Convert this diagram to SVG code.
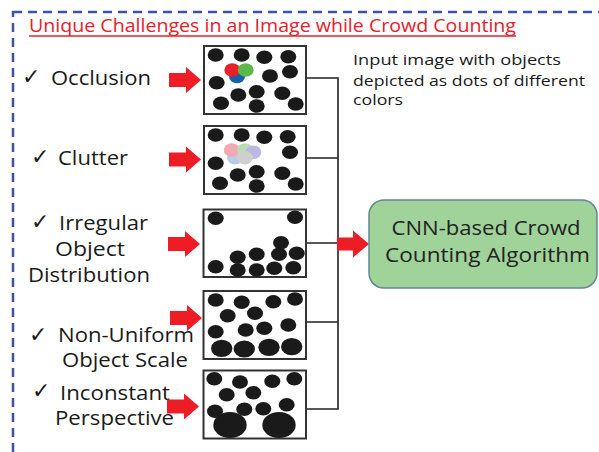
<svg xmlns="http://www.w3.org/2000/svg" width="599" height="452" viewBox="0 0 599 452">
  <style>
    .lbl { font-family: "Open Sans", "Noto Sans", sans-serif; font-size: 20px; fill: #1a1a1a; }
    .chk { font-family: "DejaVu Sans", sans-serif; font-size: 22px; font-weight: bold; fill: #1a1a1a; }
    .frame { fill: #ffffff; stroke: #333333; stroke-width: 2; }
    .dot { fill: #1a1a1a; }
    .arrow { fill: #ee1c25; }
    .wire { fill: none; stroke: #222222; stroke-width: 1.6; }
  </style>
  <defs>
    <path id="redArrow" d="M0,-7 H17 V-13 L32,0 L17,13 V7 H0 Z"/>
  </defs>

  <rect width="599" height="452" fill="#ffffff"/>

  <!-- dashed outer frame -->
  <rect x="13" y="12" width="620" height="470" fill="none" stroke="#3f51a3" stroke-width="2.5" stroke-dasharray="9 6"/>

  <!-- title -->
  <g id="title">
    <text x="29" y="32" font-family="Open Sans, Noto Sans, sans-serif" font-size="18" fill="#e8202a" textLength="487" lengthAdjust="spacingAndGlyphs">Unique Challenges in an Image while Crowd Counting</text>
    <line x1="29" y1="36" x2="516" y2="36" stroke="#e8202a" stroke-width="1.6"/>
  </g>

  <!-- challenge labels -->
  <g id="occlusion-label">
    <text class="chk" x="22" y="84">✓</text>
    <text class="lbl" x="51" y="85" textLength="100" lengthAdjust="spacingAndGlyphs">Occlusion</text>
  </g>
  <g id="clutter-label">
    <text class="chk" x="31" y="164">✓</text>
    <text class="lbl" x="58" y="165" textLength="70" lengthAdjust="spacingAndGlyphs">Clutter</text>
  </g>
  <g id="irregular-label">
    <text class="chk" x="31" y="229">✓</text>
    <text class="lbl" x="59" y="230" textLength="89" lengthAdjust="spacingAndGlyphs">Irregular</text>
    <text class="lbl" x="55" y="256" textLength="70" lengthAdjust="spacingAndGlyphs">Object</text>
    <text class="lbl" x="28" y="282" textLength="122" lengthAdjust="spacingAndGlyphs">Distribution</text>
  </g>
  <g id="scale-label">
    <text class="chk" x="29" y="342">✓</text>
    <text class="lbl" x="58" y="342" textLength="136" lengthAdjust="spacingAndGlyphs">Non-Uniform</text>
    <text class="lbl" x="62" y="367" textLength="126" lengthAdjust="spacingAndGlyphs">Object Scale</text>
  </g>
  <g id="perspective-label">
    <text class="chk" x="32" y="398">✓</text>
    <text class="lbl" x="60" y="400" textLength="110" lengthAdjust="spacingAndGlyphs">Inconstant</text>
    <text class="lbl" x="55" y="425" textLength="119" lengthAdjust="spacingAndGlyphs">Perspective</text>
  </g>

  <!-- input note -->
  <g id="note">
    <text font-family="Open Sans, Noto Sans, sans-serif" font-size="15" fill="#1a1a1a">
      <tspan x="353" y="65" textLength="208" lengthAdjust="spacingAndGlyphs">Input image with objects</tspan>
      <tspan x="353" y="86" textLength="232" lengthAdjust="spacingAndGlyphs">depicted as dots of different</tspan>
      <tspan x="353" y="105" textLength="50" lengthAdjust="spacingAndGlyphs">colors</tspan>
    </text>
  </g>

  <!-- connectors -->
  <g id="connectors">
    <use href="#redArrow" class="arrow" transform="translate(169,80)"/>
    <use href="#redArrow" class="arrow" transform="translate(169,159.5)"/>
    <use href="#redArrow" class="arrow" transform="translate(168,244)"/>
    <use href="#redArrow" class="arrow" transform="translate(170,318)"/>
    <use href="#redArrow" class="arrow" transform="translate(167,406.5)"/>
    <path class="wire" d="M306,78 H338 M306,158 H338 M306,243 H338 M306,322 H338 M306,409 H338 M338,77.2 V409.8"/>
    <path class="arrow" d="M337,237.5 H353 V230.5 L369,244 L353,257.5 V250.5 H337 Z"/>
  </g>

  <!-- image 1: occlusion -->
  <g id="img-occlusion">
    <rect class="frame" x="204" y="46" width="102" height="68"/>
    <g class="dot">
      <ellipse cx="215.7" cy="55" rx="8" ry="6.8"/>
      <ellipse cx="241.7" cy="55" rx="8" ry="6.8"/>
      <ellipse cx="264.3" cy="57.3" rx="8" ry="6.8"/>
      <ellipse cx="288.3" cy="56.7" rx="8" ry="6.8"/>
      <ellipse cx="270" cy="76" rx="8" ry="6.8"/>
      <ellipse cx="290" cy="71.7" rx="8" ry="6.8"/>
      <ellipse cx="216.7" cy="82.7" rx="8" ry="6.8"/>
      <ellipse cx="238.3" cy="95" rx="8" ry="6.8"/>
      <ellipse cx="256.7" cy="91.7" rx="8" ry="6.8"/>
      <ellipse cx="282.3" cy="93.3" rx="8" ry="6.8"/>
      <ellipse cx="221" cy="103.3" rx="8" ry="6.8"/>
      <ellipse cx="256.7" cy="106" rx="8" ry="6.8"/>
      <ellipse cx="295.7" cy="104" rx="8" ry="6.8"/>
    </g>
    <ellipse cx="237" cy="76.5" rx="8" ry="6.8" fill="#1262b0"/>
    <ellipse cx="232.3" cy="70" rx="8" ry="6.8" fill="#e8202a"/>
    <ellipse cx="245.7" cy="70" rx="8" ry="6.8" fill="#5cb848"/>
  </g>

  <!-- image 2: clutter -->
  <g id="img-clutter">
    <rect class="frame" x="204" y="126" width="102" height="68"/>
    <g class="dot">
      <ellipse cx="215.7" cy="135" rx="8" ry="6.8"/>
      <ellipse cx="241.7" cy="135" rx="8" ry="6.8"/>
      <ellipse cx="264.3" cy="137.3" rx="8" ry="6.8"/>
      <ellipse cx="287.7" cy="136.7" rx="8" ry="6.8"/>
      <ellipse cx="290" cy="152.3" rx="8" ry="6.8"/>
      <ellipse cx="215.7" cy="163.3" rx="8" ry="6.8"/>
      <ellipse cx="237.7" cy="175" rx="8" ry="6.8"/>
      <ellipse cx="256.7" cy="171.7" rx="8" ry="6.8"/>
      <ellipse cx="282.3" cy="173.3" rx="8" ry="6.8"/>
      <ellipse cx="220" cy="183.3" rx="8" ry="6.8"/>
      <ellipse cx="256.7" cy="186" rx="8" ry="6.8"/>
      <ellipse cx="295.7" cy="184" rx="8" ry="6.8"/>
    </g>
    <g opacity="0.8">
      <ellipse cx="235" cy="157.7" rx="8" ry="6.8" fill="#aabfe6"/>
      <ellipse cx="231.7" cy="150" rx="8" ry="6.8" fill="#f0959d"/>
      <ellipse cx="245" cy="150" rx="8" ry="6.8" fill="#a9d6a0"/>
      <ellipse cx="253.3" cy="152.3" rx="8" ry="6.8" fill="#a8a8dc"/>
      <ellipse cx="245" cy="157.7" rx="8" ry="6.8" fill="#c4c4c4"/>
    </g>
  </g>

  <!-- image 3: irregular distribution -->
  <g id="img-irregular">
    <rect class="frame" x="203.5" y="209.5" width="102.5" height="67.5"/>
    <g class="dot">
      <ellipse cx="215.7" cy="218.3" rx="8" ry="6.8"/>
      <ellipse cx="295" cy="217.3" rx="8" ry="6.8"/>
      <ellipse cx="281" cy="242.7" rx="8" ry="6.8"/>
      <ellipse cx="237.7" cy="257.3" rx="8" ry="6.8"/>
      <ellipse cx="256.7" cy="254.3" rx="8" ry="6.8"/>
      <ellipse cx="279" cy="254.3" rx="8" ry="6.8"/>
      <ellipse cx="296.7" cy="253.3" rx="8" ry="6.8"/>
      <ellipse cx="215.7" cy="266.7" rx="8" ry="6.8"/>
      <ellipse cx="237.7" cy="270" rx="8" ry="6.8"/>
      <ellipse cx="256.7" cy="270" rx="8" ry="6.8"/>
      <ellipse cx="274.3" cy="268.3" rx="8" ry="6.8"/>
      <ellipse cx="293.3" cy="267.7" rx="8" ry="6.8"/>
    </g>
  </g>

  <!-- image 4: non-uniform scale -->
  <g id="img-scale">
    <rect class="frame" x="203.5" y="291" width="102.5" height="68"/>
    <g class="dot">
      <ellipse cx="215.7" cy="300" rx="8" ry="6.8"/>
      <ellipse cx="241.7" cy="302.3" rx="8" ry="6.8"/>
      <ellipse cx="273.3" cy="301.7" rx="8" ry="6.8"/>
      <ellipse cx="295" cy="299" rx="8" ry="6.8"/>
      <ellipse cx="227.7" cy="315.7" rx="8" ry="6.8"/>
      <ellipse cx="255" cy="313.3" rx="8" ry="6.8"/>
      <ellipse cx="215.7" cy="331.7" rx="8" ry="6.8"/>
      <ellipse cx="245.7" cy="330" rx="8" ry="6.8"/>
      <ellipse cx="264.3" cy="328.3" rx="8" ry="6.8"/>
      <ellipse cx="288.3" cy="325" rx="8" ry="6.8"/>
      <ellipse cx="221.7" cy="348.3" rx="10.7" ry="8.6"/>
      <ellipse cx="244.3" cy="349" rx="10.7" ry="8.6"/>
      <ellipse cx="269" cy="347.3" rx="10.7" ry="8.6"/>
      <ellipse cx="291.7" cy="346.7" rx="10.7" ry="8.6"/>
    </g>
  </g>

  <!-- image 5: inconstant perspective -->
  <g id="img-perspective">
    <rect class="frame" x="203.5" y="370.5" width="102.5" height="68"/>
    <g class="dot">
      <ellipse cx="214.3" cy="378.7" rx="8" ry="6.8"/>
      <ellipse cx="240" cy="382" rx="8" ry="6.8"/>
      <ellipse cx="272.3" cy="381.3" rx="8" ry="6.8"/>
      <ellipse cx="294.3" cy="378.7" rx="8" ry="6.8"/>
      <ellipse cx="226.7" cy="394.7" rx="8" ry="6.8"/>
      <ellipse cx="253.3" cy="392.7" rx="8" ry="6.8"/>
      <ellipse cx="215" cy="411.3" rx="8" ry="6.8"/>
      <ellipse cx="244.3" cy="409.3" rx="8" ry="6.8"/>
      <ellipse cx="263.3" cy="408.7" rx="8" ry="6.8"/>
      <ellipse cx="286.7" cy="404.7" rx="8" ry="6.8"/>
      <ellipse cx="230" cy="425" rx="16.7" ry="13"/>
      <ellipse cx="279" cy="425" rx="16.7" ry="13"/>
    </g>
  </g>

  <!-- algorithm box -->
  <g id="cnn-algorithm">
    <rect x="369" y="200" width="228" height="88" rx="15" ry="15" fill="#a0d39a" stroke="#5f8a94" stroke-width="1.5"/>
    <text x="486" y="235" text-anchor="middle" font-family="Open Sans, Noto Sans, sans-serif" font-size="20" fill="#222222" textLength="189" lengthAdjust="spacingAndGlyphs">CNN-based Crowd</text>
    <text x="487.5" y="261.5" text-anchor="middle" font-family="Open Sans, Noto Sans, sans-serif" font-size="20" fill="#222222" textLength="205" lengthAdjust="spacingAndGlyphs">Counting Algorithm</text>
  </g>
</svg>
